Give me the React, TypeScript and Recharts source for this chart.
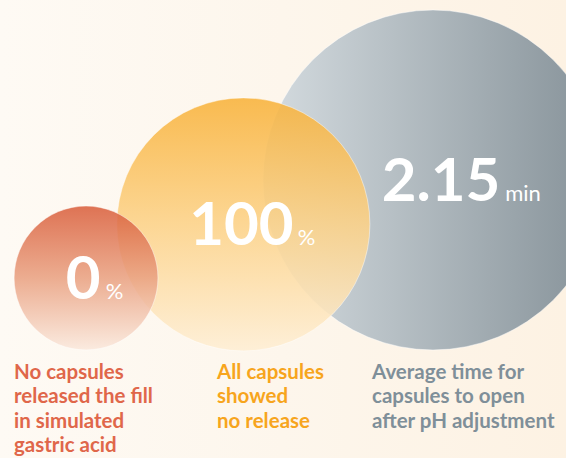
import React from 'react';
import { ScatterChart, Scatter, XAxis, YAxis, ZAxis } from 'recharts';

// ---- data ----
const categories = ['fill', 'release', 'open'];
const values = ['0', '100', '2.15'];
const units = ['%', '%', 'min'];
const bubbleX = [15.2, 43.0, 76.5];
const bubbleY = [60.7, 49.0, 39.3];
const bubbleSize = [17.9, 55.4, 100];
const captionLines = [
  ['No capsules', 'released the fill', 'in simulated', 'gastric acid'],
  ['All capsules', 'showed', 'no release'],
  ['Average time for', 'capsules to open', 'after pH adjustment'],
];

// ---- layout / style ----
const W = 566;
const H = 458;
const FONT = 'Lato, "Open Sans", sans-serif';
const CAPTION_X = [14, 217, 372];
const CAPTION_BASE = 379;
const CAPTION_STEP = 24.4;
const NUMBER_DX = [-3, -2, 8];
const CAPTION_COLORS = ['#e0674a', '#f7a51d', '#7f8f99'];
const FILL_OPACITY = [0.86, 0.88, 1];
const DIGIT_W = 0.56;

const data = categories
  .map((c, i) => ({
    key: c,
    idx: i,
    x: bubbleX[i],
    y: bubbleY[i],
    z: bubbleSize[i],
    value: values[i],
    unit: units[i],
    lines: captionLines[i],
  }))
  .reverse();

const numWidth = (s: string, fs: number) =>
  s.split('').reduce((a, ch) => a + (ch === '.' ? 0.26 : DIGIT_W) * fs, 0);

const BubbleShape = (props: any) => {
  const { cx, cy, width, payload } = props;
  const r = width / 2;
  return (
    <circle
      cx={cx}
      cy={cy}
      r={r}
      fill={`url(#grad-${payload.key})`}
      fillOpacity={FILL_OPACITY[payload.idx]}
      stroke="#ffffff"
      strokeOpacity={0.45}
      strokeWidth={1}
    />
  );
};

const TextShape = (props: any) => {
  const { cx, cy, payload } = props;
  const i = payload.idx;
  const fs = 60;
  const nx = cx + NUMBER_DX[i];
  const nw = numWidth(payload.value, fs);
  return (
    <g>
      <text
        x={nx}
        y={cy + 21}
        textAnchor="middle"
        fill="#ffffff"
        fontFamily={FONT}
        fontWeight={700}
        fontSize={fs}
      >
        {payload.value}
      </text>
      <text
        x={nx + nw / 2 + 6}
        y={cy + 21}
        textAnchor="start"
        fill="#ffffff"
        fontFamily={FONT}
        fontWeight={400}
        fontSize={22}
      >
        {payload.unit}
      </text>
      <text
        x={CAPTION_X[i]}
        y={CAPTION_BASE}
        fill={CAPTION_COLORS[i]}
        fontFamily={FONT}
        fontWeight={700}
        fontSize={20.5}
      >
        {payload.lines.map((l: string, k: number) => (
          <tspan key={k} x={CAPTION_X[i]} y={CAPTION_BASE + k * CAPTION_STEP}>
            {l}
          </tspan>
        ))}
      </text>
    </g>
  );
};

export default function App() {
  return (
    <div
      style={{
        position: 'absolute',
        left: 0,
        top: 0,
        width: W,
        height: H,
        overflow: 'hidden',
        background: 'linear-gradient(90deg, #fefaf4 0%, #fdf6ec 50%, #fdf2e3 100%)',
      }}
    >
      <ScatterChart width={W} height={H} margin={{ top: 0, right: 0, bottom: 0, left: 0 }}>
        <defs>
          <linearGradient id="grad-fill" x1="0" y1="0" x2="0" y2="1">
            <stop offset="0%" stopColor="#d95d3a" />
            <stop offset="50%" stopColor="#e9a080" />
            <stop offset="100%" stopColor="#fae8dc" />
          </linearGradient>
          <linearGradient id="grad-release" x1="0" y1="0" x2="0" y2="1">
            <stop offset="0%" stopColor="#f8b23a" />
            <stop offset="50%" stopColor="#fcd288" />
            <stop offset="100%" stopColor="#feeed4" />
          </linearGradient>
          <linearGradient id="grad-open" x1="0" y1="0" x2="1" y2="0">
            <stop offset="0%" stopColor="#d5dce0" />
            <stop offset="100%" stopColor="#859198" />
          </linearGradient>
        </defs>
        <XAxis type="number" dataKey="x" domain={[0, 100]} hide />
        <YAxis type="number" dataKey="y" domain={[0, 100]} reversed hide />
        <ZAxis type="number" dataKey="z" domain={[0, 100]} range={[0, Math.PI * 170 * 170]} />
        <Scatter data={data} shape={BubbleShape} isAnimationActive={false} />
        <Scatter data={data} shape={TextShape} isAnimationActive={false} />
      </ScatterChart>
    </div>
  );
}
